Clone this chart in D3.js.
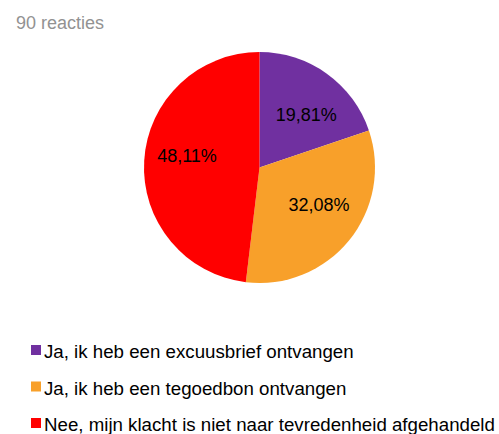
<!DOCTYPE html>
<html>
<head>
<meta charset="utf-8">
<script src="https://cdn.jsdelivr.net/npm/d3@7"></script>
<style>
  html, body { margin: 0; padding: 0; background: #fff; }
  svg { display: block; font-family: "Liberation Sans", Arial, sans-serif; }
</style>
</head>
<body>
<div id="chart"></div>
<script>
// Survey answers and their shares (percent)
const categories = [
  "Ja, ik heb een excuusbrief ontvangen",
  "Ja, ik heb een tegoedbon ontvangen",
  "Nee, mijn klacht is niet naar tevredenheid afgehandeld"
];
const values = [19.81, 32.08, 48.11];
const colors = ["#7030a0", "#f8a02a", "#ff0000"];
const title = "90 reacties";

const width = 499, height = 434;
const cx = 259.5, cy = 167.5, radius = 115.5;
// small per-slice nudges for the percentage labels (layout only)
const labelNudge = [[5, 5], [4, -8.5], [-1, -8]];

const svg = d3.select("#chart").append("svg")
  .attr("width", width)
  .attr("height", height);

svg.append("text")
  .attr("x", 16)
  .attr("y", 29.3)
  .attr("fill", "#929292")
  .attr("font-size", 18)
  .text(title);

const data = categories.map((c, i) => ({ name: c, value: values[i], color: colors[i] }));

const pie = d3.pie().sort(null).value(d => d.value);
const arc = d3.arc().innerRadius(0).outerRadius(radius);
const labelArc = d3.arc().innerRadius(radius * 0.62).outerRadius(radius * 0.62);

const g = svg.append("g").attr("transform", `translate(${cx},${cy})`);
const arcs = pie(data);

g.selectAll("path")
  .data(arcs)
  .join("path")
  .attr("d", arc)
  .attr("fill", d => d.data.color);

const fmt = v => v.toFixed(2).replace(".", ",") + "%";

g.selectAll("text.label")
  .data(arcs)
  .join("text")
  .attr("class", "label")
  .attr("transform", (d, i) => {
    const [x, y] = labelArc.centroid(d);
    return `translate(${x + labelNudge[i][0]},${y + labelNudge[i][1]})`;
  })
  .attr("text-anchor", "middle")
  .attr("dy", "0.36em")
  .attr("font-size", 18)
  .attr("fill", "#000")
  .text(d => fmt(d.data.value));

// Legend
const legend = svg.append("g");
const rows = legend.selectAll("g")
  .data(data)
  .join("g")
  .attr("transform", (d, i) => `translate(31,${345 + i * 36.5})`);

rows.append("rect")
  .attr("width", 10)
  .attr("height", 10)
  .attr("fill", d => d.color);

rows.append("text")
  .attr("x", 13)
  .attr("y", 13)
  .attr("font-size", 18.7)
  .attr("fill", "#000")
  .text(d => d.name);
</script>
</body>
</html>
